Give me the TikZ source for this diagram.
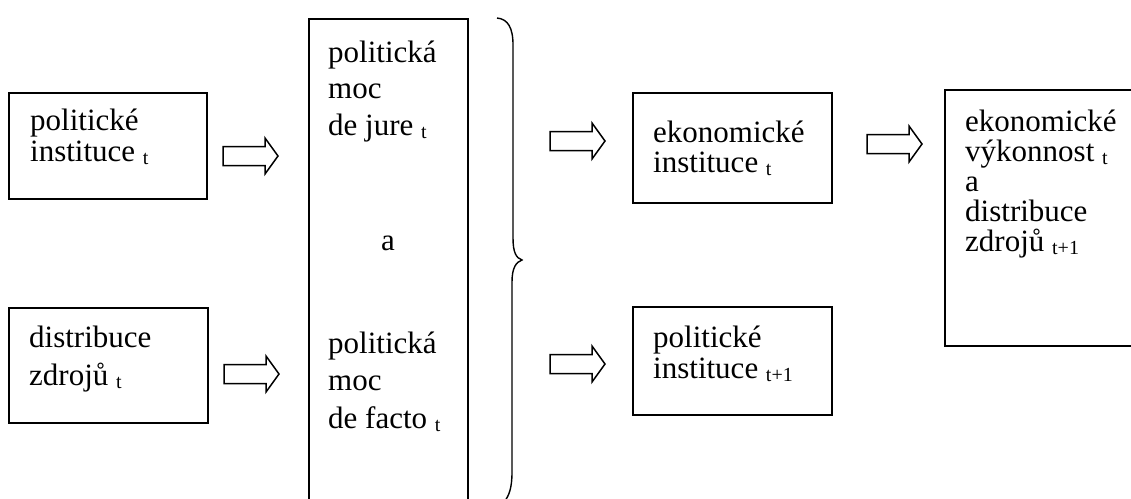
\documentclass[tikz,border=0pt]{standalone}
\usepackage{fontspec}
\setmainfont{Liberation Serif}
\newcommand\lskip[1]{\baselineskip=#1pt\lineskiplimit=-\maxdimen\relax}
\newcommand\sbs[1]{{\fontsize{20}{20}\selectfont\raisebox{-3pt}{#1}}}
\tikzset{
  boxx/.style={draw, line width=1.6pt, anchor=north west, inner sep=0pt, rectangle},
  txt/.style={anchor=base west, inner sep=0pt, font=\fontsize{31}{31}\selectfont},
  blockarr/.style={draw, line width=1.5pt, line join=miter, fill=white},
  bracestyle/.style={draw, line width=1.4pt}
}
\newcommand\harrow[3]{%
  \coordinate (#1) at (#2,#3);
  \path[blockarr] (#1) -- ++(-13,-18) -- ++(0,8.5) -- ++(-42,0) -- ++(0,19) -- ++(42,0) -- ++(0,8.5) -- cycle;}
\begin{document}
\begin{tikzpicture}[x=1pt, y=-1pt]
\useasboundingbox (0,0) rectangle (1131,498);
\clip (0,0) rectangle (1131,498);
\fill[white] (0,0) rectangle (1131,498);
% boxes
\node[boxx, minimum width=198pt, minimum height=106pt] (b1) at (8,92) {};
\node[boxx, minimum width=199pt, minimum height=115pt] (b2) at (8,307) {};
\node[boxx, minimum width=159pt, minimum height=520pt] (bm) at (308,18) {};
\node[boxx, minimum width=199pt, minimum height=110pt] (b3) at (632,92) {};
\node[boxx, minimum width=199pt, minimum height=108pt] (b4) at (632,306) {};
\node[boxx, minimum width=230pt, minimum height=256pt] (b5) at (944,89) {};
% texts
\node[txt] (t1) at (30,130) {\vtop{\lskip{31.5}\hbox{politické}\hbox{instituce \sbs{t}}}};
\node[txt] (t2) at (29,347) {\vtop{\lskip{38}\hbox{distribuce}\hbox{zdrojů \sbs{t}}}};
\node[txt] (tm1) at (328,62) {\vtop{\lskip{36.5}\hbox{politická}\hbox{moc}\hbox{de jure \sbs{t}}}};
\node[txt, anchor=base] (ta) at (388,250) {a};
\node[txt] (tm2) at (328,353) {\vtop{\lskip{37.5}\hbox{politická}\hbox{moc}\hbox{de facto \sbs{t}}}};
\node[txt] (t3) at (653,142) {\vtop{\lskip{30.5}\hbox{ekonomické}\hbox{instituce \sbs{t}}}};
\node[txt] (t4) at (653,347) {\vtop{\lskip{31}\hbox{politické}\hbox{instituce \sbs{t+1}}}};
\node[txt] (t5) at (965,131) {\vtop{\lskip{30}\hbox{ekonomické}\hbox{výkonnost \sbs{t}}\hbox{a}\hbox{distribuce}\hbox{zdrojů \sbs{t+1}}}};
% block arrows
\harrow{a1}{278}{156}
\harrow{a2}{279}{374}
\harrow{a3}{605}{141}
\harrow{a4}{605}{364}
\harrow{a5}{922}{144}
% brace
\coordinate (br) at (522,260);
\path[bracestyle] (497,18) .. controls (508,19) and (513,28) .. (513,45)
  -- (513,238) .. controls (513,252) and (516,258) .. (br)
  .. controls (516,262) and (512,268) .. (512,282)
  -- (512,472) .. controls (512,488) and (509,496) .. (504,502);
\end{tikzpicture}
\end{document}
